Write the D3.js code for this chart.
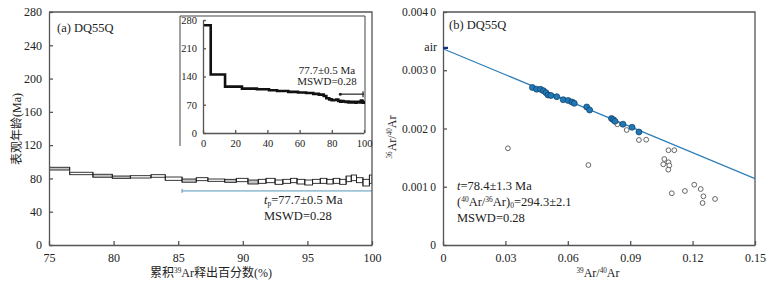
<!DOCTYPE html>
<html><head><meta charset="utf-8">
<script src="https://cdn.jsdelivr.net/npm/d3@7"></script>
<style>
body{margin:0;background:#fff}
text{font-family:"Liberation Serif","Noto Sans CJK SC",serif;fill:#222}
</style></head>
<body><svg id="c" width="780" height="286"></svg>
<script>
// age spectrum: cumulative 39Ar release edges (%) and age band (Ma)
var stepEdges = [0,4.8,13.7,24.2,33.5,41.0,46.0,53.0,59.0,64.0,68.5,72.0,
  75.0,76.6,78.4,79.9,81.3,82.9,84.0,85.3,86.4,87.3,88.6,89.5,90.4,91.2,91.8,92.5,93.1,93.7,
  94.2,94.8,95.4,96.0,96.5,97.0,97.5,98.0,98.4,98.8,99.3,99.8,100];
var ageLo = [262,142,112,107.5,106,103.5,101.5,99.5,98,96.5,94.5,92.5,
  90.1,84.5,81.4,80.1,80.5,81.4,77.7,75.4,77.3,76.5,75.3,76.1,73.3,74.1,74.9,72.9,74.1,74.9,
  73.3,72.1,74.1,74.1,73.3,74.1,72.9,76.1,77.3,74.9,70.9,74.1];
var ageHi = [272,148,118,112.5,111,108.5,106.5,104.5,103,101.5,99.5,97.5,
  93.4,87.4,85.0,82.9,83.3,84.5,81.7,79.3,80.9,79.3,78.9,80.1,78.1,78.9,80.1,78.1,78.9,80.1,
  78.9,78.1,78.9,80.1,78.9,80.1,78.9,82.9,84.1,80.9,78.9,84.1];
var shadedSteps = [12,14,15,19,22,24];
var plateauAge = 77.7, plateauFrom = 85.3, plateauTo = 100;

// isochron
var filledX = [0.0430,0.0450,0.0469,0.0483,0.0495,0.0505,0.0519,0.0547,0.0578,0.0602,0.0620,0.0631,
  0.0691,0.0705,0.0810,0.0819,0.0827,0.0865,0.0909,0.0942];
var filledY = [0.002704,0.002675,0.002673,0.002649,0.002615,0.002575,0.002567,0.002546,0.002494,0.002481,
  0.002455,0.002433,0.002369,0.002318,0.002172,0.002151,0.002124,0.002074,0.002021,0.001940];
var openX = [0.0838,0.0883,0.0942,0.0977,0.0312,0.0699,0.1084,0.1112,0.1064,0.1084,0.1059,0.1088,0.1083,
  0.1100,0.1163,0.1208,0.1239,0.1252,0.1308,0.1248];
var openY = [0.002072,0.001974,0.001803,0.001808,0.001660,0.001373,0.001627,0.001627,0.001476,0.001420,
  0.001385,0.001365,0.001293,0.000888,0.000927,0.001035,0.000961,0.000836,0.000790,0.000721];
var fitIntercept = 0.00337, fitSlope = -0.01487, airValue = 0.003384;

var mainXTicks = [75,80,85,90,95,100], mainYTicks = [0,40,80,120,160,200,240,280];
var insetXTicks = [0,20,40,60,80,100], insetYTicks = [0,70,140,210,280];
var isoXTicks = [0,0.03,0.06,0.09,0.12,0.15], isoYTicks = [0,0.001,0.002,0.003,0.004];

var svg = d3.select("#c");

function axes(g, x, y, xt, yt, fs, xfmt, yfmt, tk) {
  var ax = g.append("g").attr("transform", "translate(0," + y.range()[0] + ")")
    .call(d3.axisBottom(x).tickValues(xt).tickSizeInner(-tk).tickSizeOuter(0).tickPadding(tk + 4).tickFormat(xfmt));
  var ay = g.append("g").attr("transform", "translate(" + x.range()[0] + ",0)")
    .call(d3.axisLeft(y).tickValues(yt).tickSizeInner(-tk).tickSizeOuter(0).tickPadding(tk + 3).tickFormat(yfmt));
  [ax, ay].forEach(function (a) {
    a.selectAll("path,line").attr("stroke", "#555").attr("stroke-width", 1.3);
    a.selectAll("text").style("font-size", fs + "px").attr("fill", "#222")
      .style("font-family", '"Liberation Serif",serif');
  });
}
function frame(g, x, y) {
  g.append("path").attr("fill", "none").attr("stroke", "#555").attr("stroke-width", 1.3)
    .attr("d", "M" + x.range()[0] + "," + y.range()[1] + "H" + x.range()[1] + "V" + y.range()[0]);
}
function supText(t, parts) {
  parts.forEach(function (p) {
    var s = t.append("tspan").text(p[0]);
    if (p[1] === "sup") s.style("font-size", "0.6em").attr("baseline-shift", "super");
    if (p[1] === "sub") s.style("font-size", "0.6em").attr("baseline-shift", "-25%");
    if (p[1] === "it") s.style("font-style", "italic");
  });
}

// ---------- (a) age spectrum ----------
var xA = d3.scaleLinear().domain([75, 100]).range([49, 372]);
var yA = d3.scaleLinear().domain([0, 280]).range([245, 12]);
var gA = svg.append("g");
svg.append("clipPath").attr("id", "clipA").append("rect")
  .attr("x", 49).attr("y", 12).attr("width", 323).attr("height", 233);

var steps = ageLo.map(function (lo, i) {
  return {x0: stepEdges[i], x1: stepEdges[i + 1], lo: lo, hi: ageHi[i], shade: shadedSteps.indexOf(i) >= 0};
});
var stepG = gA.append("g").attr("clip-path", "url(#clipA)");
stepG.selectAll("rect").data(steps).enter().append("rect")
  .attr("x", function (d) { return xA(d.x0); })
  .attr("width", function (d) { return xA(d.x1) - xA(d.x0); })
  .attr("y", function (d) { return yA(d.hi); })
  .attr("height", function (d) { return yA(d.lo) - yA(d.hi); })
  .attr("fill", function (d) { return d.shade ? "#c4c4c4" : "#fff"; })
  .attr("stroke", "#222").attr("stroke-width", 0.9);
stepG.selectAll("line.join").data(steps.slice(0, -1)).enter().append("line")
  .attr("x1", function (d) { return xA(d.x1); }).attr("x2", function (d) { return xA(d.x1); })
  .attr("y1", function (d, i) { return yA(Math.min(d.lo, steps[i + 1].lo)); })
  .attr("y2", function (d, i) { return yA(Math.max(d.hi, steps[i + 1].hi)); })
  .attr("stroke", "#222").attr("stroke-width", 0.9);

// plateau bar
var pbY = yA(plateauAge) + 10.5;
gA.append("line").attr("x1", xA(plateauFrom)).attr("x2", xA(plateauTo)).attr("y1", pbY).attr("y2", pbY)
  .attr("stroke", "#9cc3da").attr("stroke-width", 1.8);
gA.append("line").attr("x1", xA(plateauFrom)).attr("x2", xA(plateauFrom)).attr("y1", pbY - 2).attr("y2", pbY + 2)
  .attr("stroke", "#5d8fb0").attr("stroke-width", 1);

axes(gA, xA, yA, mainXTicks, mainYTicks, 12, d3.format("d"), d3.format("d"), 4);
frame(gA, xA, yA);

gA.append("text").attr("x", 57).attr("y", 32).style("font-size", "12.5px").text("(a)  DQ55Q");
gA.append("text").attr("transform", "translate(21,129) rotate(-90)").attr("text-anchor", "middle")
  .style("font-size", "12px").text("表观年龄(Ma)");
supText(gA.append("text").attr("x", 211).attr("y", 277).attr("text-anchor", "middle").style("font-size", "12px"),
  [["累积"], ["39", "sup"], ["Ar释出百分数(%)"]]);
supText(gA.append("text").attr("x", 264).attr("y", 204).style("font-size", "12.5px"),
  [["t", "it"], ["p", "sub"], ["=77.7±0.5 Ma"]]);
gA.append("text").attr("x", 264).attr("y", 220).style("font-size", "12.5px").text("MSWD=0.28");

// ---------- inset: full spectrum ----------
var xI = d3.scaleLinear().domain([0, 100]).range([203, 364]);
var yI = d3.scaleLinear().domain([0, 280]).range([133, 20]);
var gI = svg.append("g");
gI.append("path").attr("fill", "none").attr("stroke", "#444").attr("stroke-width", 1)
  .attr("d", "M180,146V16H365V133");
var pts = steps.map(function (d) { return [d.x0, (d.lo + d.hi) / 2]; });
pts.push([100, pts[pts.length - 1][1]]);
gI.append("path").datum(pts).attr("fill", "none").attr("stroke", "#111").attr("stroke-width", 2.6)
  .attr("d", d3.line().x(function (d) { return xI(d[0]); }).y(function (d) { return yI(d[1]); }).curve(d3.curveStepAfter));
var ibY = yI(plateauAge) - 7.5;
gI.append("line").attr("x1", xI(plateauFrom)).attr("x2", xI(plateauTo)).attr("y1", ibY).attr("y2", ibY)
  .attr("stroke", "#222").attr("stroke-width", 1.2);
gI.append("circle").attr("cx", xI(plateauFrom)).attr("cy", ibY).attr("r", 1.5).attr("fill", "#222");
gI.append("line").attr("x1", xI(plateauTo) - 1).attr("x2", xI(plateauTo) - 1).attr("y1", ibY - 3).attr("y2", ibY + 3)
  .attr("stroke", "#222").attr("stroke-width", 1.2);
axes(gI, xI, yI, insetXTicks, insetYTicks, 10.5, d3.format("d"), d3.format("d"), 3);
gI.append("text").attr("x", 327).attr("y", 74).attr("text-anchor", "middle").style("font-size", "11px").text("77.7±0.5 Ma");
gI.append("text").attr("x", 327).attr("y", 85).attr("text-anchor", "middle").style("font-size", "11px").text("MSWD=0.28");

// ---------- (b) isochron ----------
var xB = d3.scaleLinear().domain([0, 0.15]).range([443, 755]);
var yB = d3.scaleLinear().domain([0, 0.004]).range([245, 12]);
var gB = svg.append("g");
var isoFmtY = function (d) { return d === 0 ? "0" : d3.format(".4f")(d).replace(/(\d)$/, "\u2009$1"); };
var isoFmtX = function (d) { return d === 0 ? "0" : d3.format(".2f")(d); };
axes(gB, xB, yB, isoXTicks, isoYTicks, 11.5, isoFmtX, isoFmtY, 4);
gB.selectAll("g.tick text").filter(function () { return this.parentNode.parentNode.getAttribute("transform").indexOf("translate(0,") === 0; })
  .style("font-size", "12px");
frame(gB, xB, yB);

gB.append("line").attr("x1", xB(0)).attr("x2", xB(0.15))
  .attr("y1", yB(fitIntercept)).attr("y2", yB(fitIntercept + fitSlope * 0.15))
  .attr("stroke", "#2f7fb9").attr("stroke-width", 1.2);
gB.append("line").attr("x1", xB(0)).attr("x2", xB(0) + 5).attr("y1", yB(airValue)).attr("y2", yB(airValue))
  .attr("stroke", "#1c2f7a").attr("stroke-width", 2.2);
gB.append("text").attr("x", 437).attr("y", yB(airValue) + 3).attr("text-anchor", "end")
  .style("font-size", "12px").text("air");

gB.selectAll("circle.o").data(openX).enter().append("circle")
  .attr("cx", function (d) { return xB(d); }).attr("cy", function (d, i) { return yB(openY[i]); })
  .attr("r", 2.4).attr("fill", "#fff").attr("stroke", "#555").attr("stroke-width", 0.9);
gB.selectAll("circle.f").data(filledX).enter().append("circle")
  .attr("cx", function (d) { return xB(d); }).attr("cy", function (d, i) { return yB(filledY[i]); })
  .attr("r", 3).attr("fill", "#1f79b6").attr("stroke", "#0c3a63").attr("stroke-width", 0.7);

gB.append("text").attr("x", 449).attr("y", 29).style("font-size", "12.5px").text("(b)  DQ55Q");
supText(gB.append("text").attr("x", 457).attr("y", 190).style("font-size", "12.5px"),
  [["t", "it"], ["=78.4±1.3 Ma"]]);
supText(gB.append("text").attr("x", 457).attr("y", 206).style("font-size", "12.5px"),
  [["("], ["40", "sup"], ["Ar/"], ["36", "sup"], ["Ar)"], ["0", "sub"], ["=294.3±2.1"]]);
gB.append("text").attr("x", 457).attr("y", 222).style("font-size", "12.5px").text("MSWD=0.28");
supText(gB.append("text").attr("x", 598).attr("y", 277).attr("text-anchor", "middle").style("font-size", "12px"),
  [["39", "sup"], ["Ar/"], ["40", "sup"], ["Ar"]]);
supText(gB.append("text").attr("transform", "translate(396,137) rotate(-90)").attr("text-anchor", "middle")
  .style("font-size", "12px"), [["36", "sup"], ["Ar/"], ["40", "sup"], ["Ar"]]);
</script></body></html>
